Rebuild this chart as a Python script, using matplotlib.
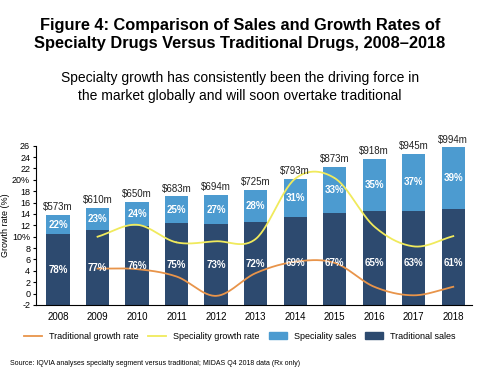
import numpy as np
import matplotlib
matplotlib.use("Agg")
import matplotlib.pyplot as plt
from matplotlib.lines import Line2D
from matplotlib.patches import Patch

plt.rcParams['font.family'] = ['Liberation Sans', 'DejaVu Sans']

# data (axis units, bars start at the -2 baseline)
years = ['2008', '2009', '2010', '2011', '2012', '2013', '2014', '2015', '2016', '2017', '2018']
trad_top = [10.4, 11.1, 11.8, 12.4, 12.2, 12.6, 13.4, 14.2, 14.6, 14.6, 14.9]
total_top = [13.8, 15.05, 16.1, 17.1, 17.3, 18.2, 20.1, 22.3, 23.7, 24.5, 25.7]
total_sales = ['$573m', '$610m', '$650m', '$683m', '$694m', '$725m', '$793m', '$873m', '$918m', '$945m', '$994m']
spec_share = [22, 23, 24, 25, 27, 28, 31, 33, 35, 37, 39]
trad_share = [78, 77, 76, 75, 73, 72, 69, 67, 65, 63, 61]
# growth rates (%), from 2009 onwards
spec_growth = [10.0, 12.1, 9.0, 9.2, 9.6, 20.2, 20.3, 11.8, 8.3, 10.1]
trad_growth = [4.4, 4.3, 3.0, -0.4, 3.6, 5.6, 5.4, 1.2, -0.3, 1.2]

dark = '#2d4a6f'
light = '#4c9bd0'
yellow = '#f0ea5c'
orange = '#e8944a'


def smooth(xs, ys, n=30):
    # catmull-rom curve through the points
    xs = np.asarray(xs, float)
    ys = np.asarray(ys, float)
    px = np.concatenate([[2 * xs[0] - xs[1]], xs, [2 * xs[-1] - xs[-2]]])
    py = np.concatenate([[2 * ys[0] - ys[1]], ys, [2 * ys[-1] - ys[-2]]])
    ox, oy = [], []
    t = np.linspace(0, 1, n)
    for i in range(1, len(px) - 2):
        for p, o in ((px, ox), (py, oy)):
            p0, p1, p2, p3 = p[i - 1], p[i], p[i + 1], p[i + 2]
            o.extend(0.5 * (2 * p1 + (-p0 + p2) * t + (2 * p0 - 5 * p1 + 4 * p2 - p3) * t ** 2
                            + (-p0 + 3 * p1 - 3 * p2 + p3) * t ** 3))
    return np.array(ox), np.array(oy)


fig = plt.figure(figsize=(4.8, 3.79), dpi=100)
ax = fig.add_axes([0.0744, 0.1953, 0.9086, 0.4203])

x = np.arange(len(years))
base = -2
trad_h = np.array(trad_top) - base
spec_h = np.array(total_top) - np.array(trad_top)
ax.bar(x, trad_h, bottom=base, width=0.59, color=dark, zorder=2)
ax.bar(x, spec_h, bottom=trad_top, width=0.59, color=light, zorder=2)

gx = x[1:]
sx, sy = smooth(gx, spec_growth)
ax.plot(sx, sy, color=yellow, lw=1.3, zorder=3)
tx, ty = smooth(gx, trad_growth)
ax.plot(tx, ty, color=orange, lw=1.3, zorder=3)

for i in range(len(years)):
    ax.annotate(total_sales[i], (x[i], total_top[i]), xytext=(0, 2), textcoords='offset points',
                ha='center', va='bottom', fontsize=7, color='#222222')
    ax.text(x[i], (trad_top[i] + total_top[i]) / 2, f'{spec_share[i]}%', ha='center', va='center',
            fontsize=7, color='white', fontweight='bold', zorder=4)
    mid = (base + trad_top[i]) / 2
    ax.text(x[i], min(mid, 5.5) - 0.1, f'{trad_share[i]}%', ha='center', va='center',
            fontsize=7, color='white', fontweight='bold', zorder=4)

ax.set_xlim(-0.565, 10.47)
ax.set_ylim(-2, 26)
ax.set_xticks(x)
ax.set_xticklabels(years, fontsize=7)
yt = np.arange(-2, 27, 2)
ax.set_yticks(yt)
ax.set_yticklabels([f'{v}%' if v in (10, 20) else str(v) for v in yt], fontsize=6.5)
ax.tick_params(axis='x', length=0, pad=5)
ax.tick_params(axis='y', length=2.5, pad=1.5)
for s in ('top', 'right'):
    ax.spines[s].set_visible(False)
ax.spines['left'].set_linewidth(0.8)
ax.spines['bottom'].set_linewidth(0.8)
ax.set_ylabel('Growth rate (%)', fontsize=6.5)
ax.yaxis.set_label_coords(-0.058, 0.5)

fig.text(0.5, 0.934, 'Figure 4: Comparison of Sales and Growth Rates of', ha='center', va='center',
         fontsize=11.8, fontweight='bold')
fig.text(0.5, 0.884, 'Specialty Drugs Versus Traditional Drugs, 2008\u20132018', ha='center', va='center',
         fontsize=11.8, fontweight='bold')
fig.text(0.5, 0.794, 'Specialty growth has consistently been the driving force in', ha='center',
         va='center', fontsize=10)
fig.text(0.5, 0.747, 'the market globally and will soon overtake traditional', ha='center',
         va='center', fontsize=10)

handles = [Line2D([], [], color=orange, lw=1.3), Line2D([], [], color=yellow, lw=1.3),
           Patch(color=light), Patch(color=dark)]
labels = ['Traditional growth rate', 'Speciality growth rate', 'Speciality sales', 'Traditional sales']
fig.legend(handles, labels, loc='center', bbox_to_anchor=(0.5, 0.113), ncol=4, frameon=False,
           fontsize=6.5, handlelength=2.0, handletextpad=0.8, columnspacing=1.0)

fig.text(0.021, 0.04, 'Source: IQVIA analyses specialty segment versus traditional; MIDAS Q4 2018 data (Rx only)',
         fontsize=5.0, va='center')

fig.savefig('out.png', dpi=100)
